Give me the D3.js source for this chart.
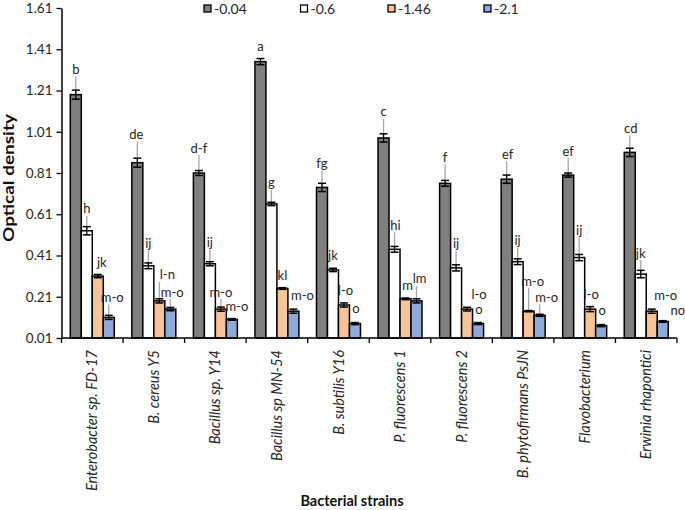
<!DOCTYPE html>
<html><head><meta charset="utf-8">
<script src="https://cdn.jsdelivr.net/npm/d3@7"></script>
<style>body{margin:0;background:#fff}svg{display:block}text{font-family:Lato,"Open Sans",sans-serif}</style>
</head><body><svg id="c" width="685" height="510"></svg>
<script>
const categories = ["Enterobacter sp. FD-17","B. cereus Y5","Bacillus sp. Y14","Bacillus sp MN-54","B. subtilis Y16","P. fluorescens 1","P. fluorescens 2","B. phytofirmans PsJN","Flavobacterium","Erwinia rhapontici"];
const seriesNames = ["-0.04","-0.6","-1.46","-2.1"];
const seriesColors = ["#7f7f7f","#ffffff","#f8c397","#8eaadb"];
const v004 = [1.19,0.86,0.81,1.35,0.74,0.98,0.76,0.78,0.80,0.91];
const v06  = [0.53,0.36,0.37,0.66,0.34,0.44,0.35,0.38,0.40,0.32];
const v146 = [0.31,0.19,0.15,0.25,0.17,0.20,0.15,0.14,0.15,0.14];
const v21  = [0.11,0.15,0.10,0.14,0.08,0.19,0.08,0.12,0.07,0.09];
const e004 = [0.022,0.022,0.012,0.015,0.02,0.02,0.014,0.02,0.01,0.02];
const e06  = [0.02,0.014,0.01,0.008,0.008,0.014,0.015,0.014,0.015,0.018];
const e146 = [0.008,0.01,0.01,0.004,0.01,0.004,0.009,0.003,0.012,0.01];
const e21  = [0.01,0.008,0.004,0.01,0.005,0.01,0.005,0.005,0.005,0.004];
const l004 = ["b","de","d-f","a","fg","c","f","ef","ef","cd"];
const l06  = ["h","ij","ij","g","jk","hi","ij","ij","ij","jk"];
const l146 = ["jk","l-n","m-o","kl","l-o","m","l-o","m-o","l-o","m-o"];
const l21  = ["m-o","m-o","m-o","m-o","o","lm","o","m-o","o","no"];
const yTicks = [0.01,0.21,0.41,0.61,0.81,1.01,1.21,1.41,1.61];

const values = [v004,v06,v146,v21];
const errors = [e004,e06,e146,e21];
const labels = [l004,l06,l146,l21];
// label layout: [dx from bar centre, rise above bar top] in px
const labelLayout = [
  [[0,25],[-1,28],[0,25],[0,15],[0,24],[0,26],[0,26],[1,25],[0,24],[1,24]],
  [[0,22],[0,22],[0,21],[0,21],[0,14],[1,24],[0,24],[0,21],[0,27],[0,21]],
  [[4,14],[8,26],[0,17],[0,13],[1.5,15],[2,13],[12,15],[4,30],[1,15],[14,16]],
  [[3.5,20],[2,17],[5,12.5],[9,16],[1,15],[3,22],[1,14],[7,18],[1,15],[15,11]]
];

const svg = d3.select("#c");
const x0 = d3.scaleBand().domain(categories).range([61.5,677]).paddingInner(0).paddingOuter(0);
const x1 = d3.scaleBand().domain(seriesNames).range([0,x0.bandwidth()]).paddingInner(0).paddingOuter(0.8);
const y = d3.scaleLinear().domain([0.01,1.61]).range([338,8]);

// y axis
const yAxis = svg.append("g").attr("transform","translate(61.5,0)")
  .call(d3.axisLeft(y).tickValues(yTicks).tickFormat(d3.format(".2f")).tickSize(5).tickSizeOuter(0));
yAxis.select(".domain").attr("stroke","#000").attr("stroke-width",1.5);
yAxis.selectAll(".tick line").attr("stroke","#000").attr("stroke-width",1.3);
yAxis.selectAll(".tick text").attr("font-size",13.5).attr("fill","#262626").attr("x",-9);

// bars
const groups = svg.append("g").selectAll("g").data(categories).join("g")
  .attr("transform",d=>`translate(${x0(d)},0)`);
seriesNames.forEach((s,si)=>{
  groups.append("rect")
    .attr("x",x1(s)).attr("width",x1.bandwidth())
    .attr("y",(d,i)=>y(values[si][i])).attr("height",(d,i)=>y(0.01)-y(values[si][i]))
    .attr("fill",seriesColors[si]).attr("stroke","#000").attr("stroke-width",1.5);
});
// leader lines & labels
seriesNames.forEach((s,si)=>{
  groups.each(function(d,i){
    const g = d3.select(this);
    const cx = x1(s)+x1.bandwidth()/2;
    const top = y(values[si][i]);
    const [dx,rise] = labelLayout[si][i];
    const lx = cx+dx, ly = top-rise;
    const txt = labels[si][i];
    const hw = txt.length*3.2;
    if (rise>=16.5){
      const sx = lx - Math.sign(dx)*Math.min(Math.abs(dx),hw-1);
      g.append("line").attr("x1",sx).attr("y1",ly+7).attr("x2",cx).attr("y2",top)
        .attr("stroke","#a6a6a6").attr("stroke-width",1.3);
    }
    g.append("text").attr("x",lx).attr("y",ly).attr("dy","0.35em").attr("text-anchor","middle")
      .attr("font-size",13).attr("fill","#262626").text(txt);
  });
});
// error bars
seriesNames.forEach((s,si)=>{
  groups.each(function(d,i){
    const g = d3.select(this);
    const cx = x1(s)+x1.bandwidth()/2;
    const v = values[si][i], e = errors[si][i];
    const yt = y(v+e), yb = y(v-e);
    g.append("line").attr("x1",cx).attr("x2",cx).attr("y1",yt).attr("y2",yb).attr("stroke","#000").attr("stroke-width",1.3);
    [yt,yb].forEach(yy=>g.append("line").attr("x1",cx-4).attr("x2",cx+4).attr("y1",yy).attr("y2",yy).attr("stroke","#000").attr("stroke-width",1.5));
  });
});

// x axis
const xAxisG = svg.append("g").attr("transform","translate(0,338)");
xAxisG.append("line").attr("x1",61.5).attr("x2",677).attr("stroke","#000").attr("stroke-width",1.5);
const bounds = categories.map(c=>x0(c)).concat([x0(categories[categories.length-1])+x0.bandwidth()]);
xAxisG.selectAll("line.t").data(bounds).join("line").attr("class","t")
  .attr("x1",d=>d).attr("x2",d=>d).attr("y1",0).attr("y2",5).attr("stroke","#000").attr("stroke-width",1.3);
xAxisG.selectAll("text").data(categories).join("text")
  .attr("transform",d=>`translate(${x0(d)+x0.bandwidth()/2},12) rotate(-90)`)
  .attr("text-anchor","end").attr("dy","0.35em").attr("font-size",14.5).attr("font-style","italic").attr("fill","#262626")
  .text(d=>d);

// axis titles
svg.append("text").attr("transform","translate(9,178) rotate(-90)").attr("text-anchor","middle").attr("dy","0.35em")
  .attr("font-size",15).attr("font-weight","bold").attr("fill","#111")
  .attr("textLength",128).attr("lengthAdjust","spacingAndGlyphs").text("Optical density");
svg.append("text").attr("x",352).attr("y",501).attr("text-anchor","middle").attr("dy","0.35em")
  .attr("font-size",14.5).attr("font-weight","bold").attr("fill","#111").text("Bacterial strains");

// legend
const legX = [204,300.5,388,484];
const leg = svg.append("g");
seriesNames.forEach((s,si)=>{
  leg.append("rect").attr("x",legX[si]).attr("y",5).attr("width",7).attr("height",7)
    .attr("fill",seriesColors[si]).attr("stroke","#000").attr("stroke-width",1.3);
  leg.append("text").attr("x",legX[si]+10).attr("y",9).attr("dy","0.35em").attr("font-size",14).attr("fill","#262626").text(s);
});
</script></body></html>
